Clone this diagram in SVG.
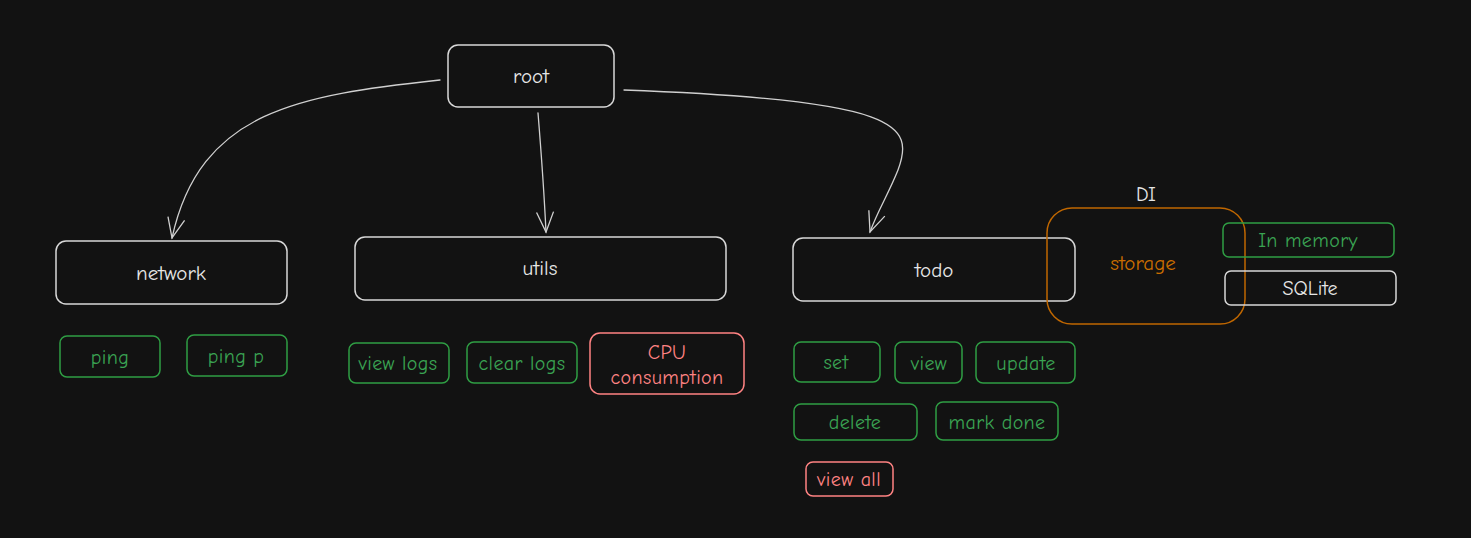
<svg xmlns="http://www.w3.org/2000/svg" width="1471" height="538" viewBox="0 0 1471 538">
<defs>
<style>
.w{fill:none;stroke:#d8d8d8;stroke-width:1.5}
.g{fill:none;stroke:#2f9e44;stroke-width:1.5}
.r{fill:none;stroke:#ff8383;stroke-width:1.5}
.o{fill:none;stroke:#c06700;stroke-width:1.5}
text{font-family:"Comic Neue","Liberation Sans",sans-serif;text-anchor:middle;dominant-baseline:central}
.tw{fill:#e6e6e6;font-size:21px}
.tg{fill:#3aa352;font-size:20px;letter-spacing:0.4px}
.tr{fill:#ff8383;font-size:20px;letter-spacing:0.4px}
.to{fill:#c96d00;font-size:21px}
.c{fill:none;stroke:#d0d0d0;stroke-width:1.3;stroke-linecap:round}
</style>
<marker id="ah" viewBox="0 0 24 24" refX="22" refY="12" markerWidth="24" markerHeight="24" markerUnits="userSpaceOnUse" orient="auto">
<path d="M2,3.5 L22,12 L2,20.5" fill="none" stroke="#d0d0d0" stroke-width="1.3"/>
</marker>
</defs>
<rect width="1471" height="538" fill="#121212"/>
<g id="connectors">
<path class="c" d="M440,80 C 300,95 200,110 172,238" marker-end="url(#ah)"/>
<path class="c" d="M538,113 C 541,150 544,190 546,232" marker-end="url(#ah)"/>
<path class="c" d="M624,90 C 900,100 915,125 898,170 C 888,195 878,210 870,232" marker-end="url(#ah)"/>
</g>
<g id="root"><rect class="w" x="448" y="45" width="166" height="62" rx="10"/><text class="tw" x="531" y="76">root</text></g>
<g id="network"><rect class="w" x="56" y="241" width="231" height="63" rx="10"/><text class="tw" x="171" y="273">network</text></g>
<g id="utils"><rect class="w" x="355" y="237" width="371" height="63" rx="10"/><text class="tw" x="540" y="268">utils</text></g>
<g id="todo"><rect class="w" x="793" y="238" width="282" height="63" rx="10"/><text class="tw" x="934" y="270">todo</text></g>
<g id="storage"><rect class="o" x="1047" y="208" width="198" height="116" rx="25"/><text class="to" x="1143" y="263">storage</text></g>
<g id="di"><text class="tw" x="1146" y="194" style="font-size:20px">DI</text></g>
<g id="in-memory"><rect class="g" x="1223" y="223" width="171" height="34" rx="6"/><text class="tg" x="1308" y="240">In memory</text></g>
<g id="sqlite"><rect class="w" x="1225" y="271" width="171" height="34" rx="6"/><text class="tw" x="1310" y="288" style="font-size:20px">SQLite</text></g>
<g id="ping"><rect class="g" x="60" y="336" width="100" height="41" rx="7"/><text class="tg" x="110" y="357">ping</text></g>
<g id="ping-p"><rect class="g" x="187" y="335" width="100" height="41" rx="7"/><text class="tg" x="236" y="356">ping p</text></g>
<g id="view-logs"><rect class="g" x="349" y="343" width="100" height="40" rx="7"/><text class="tg" x="398" y="363">view logs</text></g>
<g id="clear-logs"><rect class="g" x="467" y="342" width="110" height="41" rx="7"/><text class="tg" x="522" y="363">clear logs</text></g>
<g id="cpu"><rect class="r" x="590" y="333" width="154" height="61" rx="10"/><text class="tr" x="667" y="352">CPU</text><text class="tr" x="667" y="377">consumption</text></g>
<g id="set"><rect class="g" x="794" y="342" width="86" height="40" rx="7"/><text class="tg" x="836" y="362">set</text></g>
<g id="view"><rect class="g" x="895" y="342" width="67" height="41" rx="7"/><text class="tg" x="929" y="363">view</text></g>
<g id="update"><rect class="g" x="976" y="342" width="99" height="41" rx="7"/><text class="tg" x="1026" y="363">update</text></g>
<g id="delete"><rect class="g" x="794" y="404" width="123" height="36" rx="7"/><text class="tg" x="855" y="422">delete</text></g>
<g id="mark-done"><rect class="g" x="936" y="402" width="122" height="38" rx="7"/><text class="tg" x="997" y="422">mark done</text></g>
<g id="view-all"><rect class="r" x="806" y="462" width="87" height="34" rx="7"/><text class="tr" x="849" y="479">view all</text></g>
</svg>
